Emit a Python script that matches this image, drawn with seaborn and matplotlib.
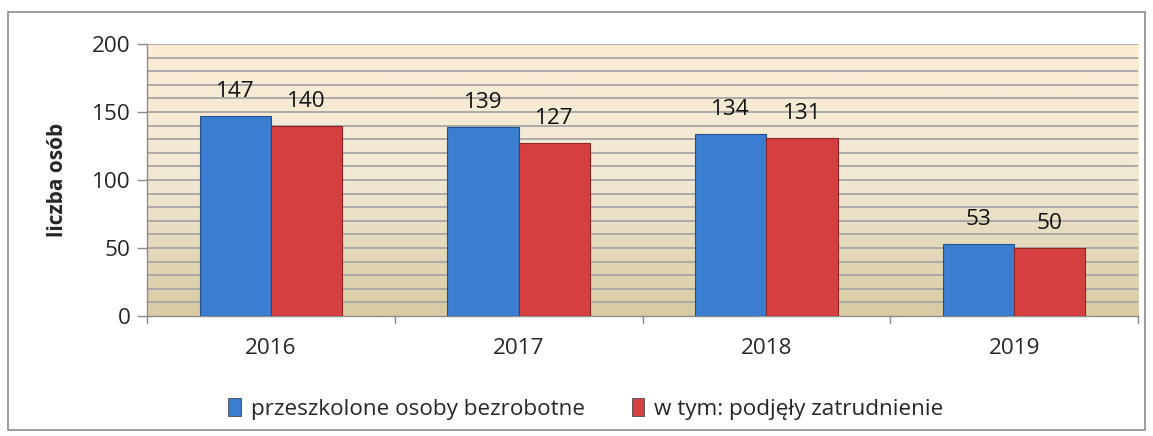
import numpy as np
import pandas as pd
import matplotlib
matplotlib.use("Agg")
import matplotlib.pyplot as plt
import seaborn as sns
from matplotlib.patches import Rectangle
from matplotlib.colors import LinearSegmentedColormap

years = ["2016", "2017", "2018", "2019"]
trained = [147, 139, 134, 53]
employed = [140, 127, 131, 50]
series_names = ["przeszkolone osoby bezrobotne", "w tym: podjęły zatrudnienie"]
y_ticks = [0, 50, 100, 150, 200]

sns.set_theme(style="white")
plt.rcParams['font.family'] = ['Open Sans', 'DejaVu Sans']

df = pd.DataFrame({
    "rok": years * 2,
    "wartosc": trained + employed,
    "seria": [series_names[0]] * 4 + [series_names[1]] * 4,
})

FS = 16.2

fig = plt.figure(figsize=(11.53, 4.36), dpi=100)
ax = fig.add_axes([0.1275, 0.275, 0.8595, 0.624])

# outer border
fig.patches.append(Rectangle((8/1153, 1-430/436), (1145-8)/1153, (430-12)/436,
                             transform=fig.transFigure, fill=False,
                             edgecolor="#8C8C8C", lw=1.2, zorder=0))

palette = {series_names[0]: "#3B7DD0", series_names[1]: "#D63F3F"}
sns.barplot(data=df, x="rok", y="wartosc", hue="seria", palette=palette,
            width=0.575, gap=0, ax=ax, saturation=1, zorder=3,
            edgecolor="#4a4a4a", linewidth=0.6)

edge_cols = ["#25508C", "#8E2424"]
for cont, ec in zip(ax.containers, edge_cols):
    for p in cont:
        p.set_edgecolor(ec)
        p.set_linewidth(0.8)
    ax.bar_label(cont, padding=10, fontsize=FS, color="#111111")

# gradient background
cmap = LinearSegmentedColormap.from_list("bg", ["#D8CBA2", "#F1E8D3", "#FCEDD3"])
grad = np.linspace(0, 1, 256).reshape(-1, 1)
ax.imshow(grad, extent=[0, 1, 0, 1], transform=ax.transAxes, cmap=cmap,
          origin="lower", aspect="auto", zorder=0)
ax.set_xlim(-0.5, 3.5)
ax.set_ylim(0, 200)

for v in range(10, 201, 10):
    ax.axhline(v, color="#A6A6A6", lw=1.3, zorder=1)

ax.set_yticks(y_ticks)
ax.set_yticklabels([str(t) for t in y_ticks], fontsize=FS)
ax.set_xticks(range(len(years)))
ax.set_xticklabels(years, fontsize=FS)
ax.tick_params(axis="x", length=0, pad=16)
ax.tick_params(axis="y", direction="out", length=7, width=1, color="#8C8C8C", pad=5, left=True)
for b in [-0.5, 0.5, 1.5, 2.5, 3.5]:
    ax.plot([b, b], [0, -0.025], transform=ax.get_xaxis_transform(),
            color="#8C8C8C", lw=1, clip_on=False)

for s in ["top", "right"]:
    ax.spines[s].set_visible(False)
for s in ["left", "bottom"]:
    ax.spines[s].set_color("#8C8C8C")
    ax.spines[s].set_linewidth(1)

ax.set_xlabel("")
ax.set_ylabel("liczba osób", fontsize=15, fontweight="bold", labelpad=17)

handles, labels = ax.get_legend_handles_labels()
ax.legend_.remove() if ax.legend_ else None
fig.legend(handles, labels, loc="center", bbox_to_anchor=(586/1153, 1-409/436),
           bbox_transform=fig.transFigure,
           ncol=2, frameon=False, fontsize=FS, handlelength=0.55, handleheight=0.8,
           handletextpad=0.45, columnspacing=2.1)

fig.savefig("out.png", dpi=100)
